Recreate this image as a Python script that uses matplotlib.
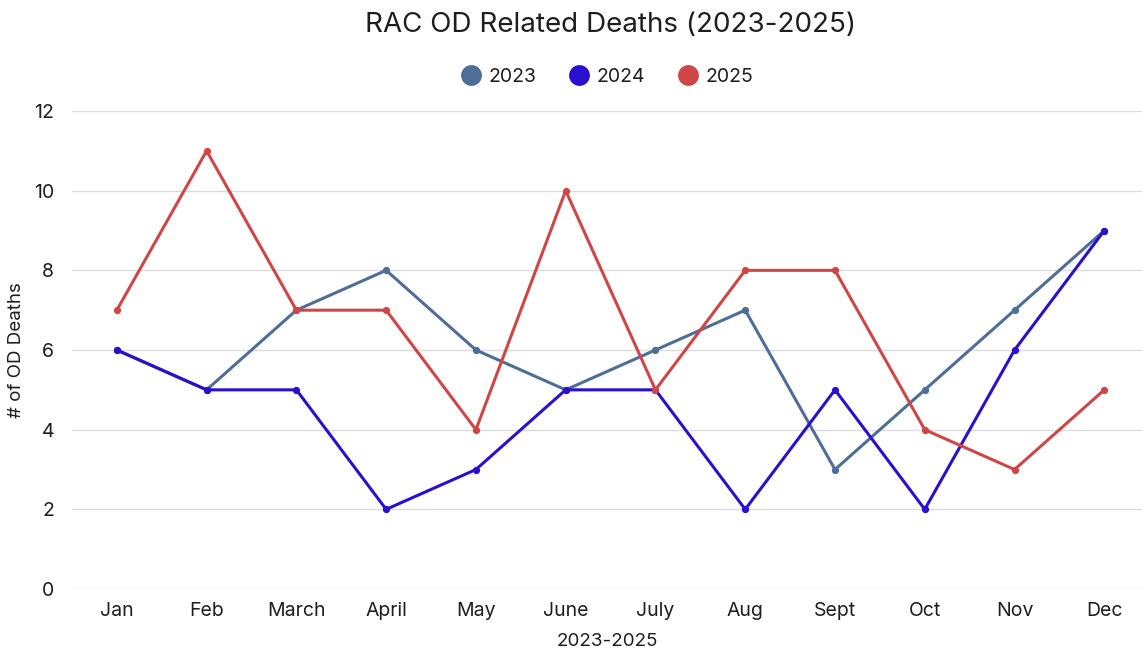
import matplotlib
matplotlib.use("Agg")
import matplotlib.pyplot as plt
from matplotlib.lines import Line2D

months = ["Jan", "Feb", "March", "April", "May", "June", "July", "Aug", "Sept", "Oct", "Nov", "Dec"]
deaths_2023 = [6, 5, 7, 8, 6, 5, 6, 7, 3, 5, 7, 9]
deaths_2024 = [6, 5, 5, 2, 3, 5, 5, 2, 5, 2, 6, 9]
deaths_2025 = [7, 11, 7, 7, 4, 10, 5, 8, 8, 4, 3, 5]
series_names = ["2023", "2024", "2025"]
colors = ["#4e6e98", "#2a0fcf", "#d04646"]

plt.rcParams['font.family'] = ['Inter', 'DejaVu Sans']

fig = plt.figure(figsize=(11.42, 6.51), dpi=100)
ax = fig.add_axes([0.063, 0.0952, 0.937, 0.7343])

x = list(range(len(months)))
for vals, c, name in zip([deaths_2023, deaths_2024, deaths_2025], colors, series_names):
    ax.plot(x, vals, color=c, lw=2.2, marker='o', ms=4.2, label=name, solid_joinstyle='round')

ax.set_xlim(-0.5, 11.42)
ax.set_ylim(0, 12)
ax.set_yticks(range(0, 13, 2))
ax.set_xticks(x)
ax.set_xticklabels(months)
ax.grid(axis='y', color='#dcdcdc', lw=1)
ax.set_axisbelow(True)
for s in ax.spines.values():
    s.set_visible(False)
ax.tick_params(length=0, labelsize=14, colors='#1e1e1e')
ax.tick_params(axis='x', pad=9)
ax.tick_params(axis='y', pad=13)
ax.set_xlabel("2023-2025", fontsize=13.5, color='#1e1e1e', labelpad=10)
ax.set_ylabel("# of OD Deaths", fontsize=13.5, color='#1e1e1e')
ax.yaxis.set_label_coords(-0.044, 0.5)

fig.text(0.535, 0.962, "RAC OD Related Deaths (2023-2025)", ha='center', va='center', fontsize=20, color='#1e1e1e')

handles = [Line2D([0], [0], marker='o', color='w', markerfacecolor=c, markersize=16, lw=0) for c in colors]
fig.legend(handles, series_names, loc='center', bbox_to_anchor=(0.530, 0.882), ncol=3, frameon=False,
           fontsize=14, handletextpad=0.2, columnspacing=1.5, handlelength=1.4, labelcolor='#1e1e1e')

fig.savefig("out.png", dpi=100)
